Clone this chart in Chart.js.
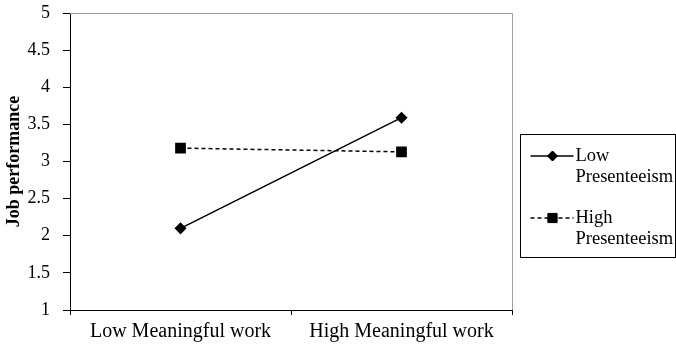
<!DOCTYPE html>
<html>
<head>
<meta charset="utf-8">
<script src="https://cdn.jsdelivr.net/npm/chart.js@4"></script>
<style>
    html, body { margin: 0; padding: 0; background: #fff; }
    #box { width: 676px; height: 346px; }
</style>
</head>
<body>
<div id="box"><canvas id="myChart"></canvas></div>
<script>
const categories = ['Low Meaningful work', 'High Meaningful work'];
const lowPresenteeism = [2.1, 3.59];
const highPresenteeism = [3.18, 3.13];
const legendLabels = [['Low', 'Presenteeism'], ['High', 'Presenteeism']];

const serif = "'Liberation Serif', 'Times New Roman', serif";

// grey frame on top/right of plot area + boxed legend at the right
const framePlugin = {
    id: 'frame',
    afterDraw(chart) {
        const c = chart.ctx;
        const a = chart.chartArea;
        c.save();
        c.strokeStyle = '#a0a0a0';
        c.lineWidth = 1;
        c.beginPath();
        c.moveTo(a.left, a.top + 0.5);
        c.lineTo(a.right + 0.5, a.top + 0.5);
        c.lineTo(a.right + 0.5, a.bottom);
        c.stroke();

        // legend
        const bx = 520.5, by = 134.5, bw = 155, bh = 123;
        c.strokeStyle = '#000';
        c.strokeRect(bx, by, bw, bh);
        c.font = '18.5px ' + serif;
        c.fillStyle = '#000';
        c.textBaseline = 'middle';
        chart.data.datasets.forEach(function (ds, i) {
            const y = by + 21.5 + i * 62;
            c.save();
            c.lineWidth = ds.borderWidth;
            c.setLineDash(ds.borderDash || []);
            c.beginPath();
            c.moveTo(bx + 10, y);
            c.lineTo(bx + 53, y);
            c.stroke();
            c.restore();
            Chart.helpers.drawPoint(c, {pointStyle: ds.pointStyle, radius: ds.pointRadius, borderWidth: 1}, bx + 32, y);
            c.fill();
            c.fillText(legendLabels[i][0], bx + 55, y);
            c.fillText(legendLabels[i][1], bx + 55, y + 21);
        });
        c.restore();
    }
};

const ctx = document.getElementById('myChart');

new Chart(ctx, {
    type: 'line',
    data: {
        labels: categories,
        datasets: [{
            label: 'Low Presenteeism',
            data: lowPresenteeism,
            borderColor: '#000',
            backgroundColor: '#000',
            borderWidth: 1.5,
            pointStyle: 'rectRot',
            pointRadius: 5,
            tension: 0
        }, {
            label: 'High Presenteeism',
            data: highPresenteeism,
            borderColor: '#000',
            backgroundColor: '#000',
            borderWidth: 1.5,
            borderDash: [4, 3],
            pointStyle: 'rect',
            pointRadius: 6.5,
            tension: 0
        }]
    },
    options: {
        responsive: true,
        maintainAspectRatio: false,
        animation: false,
        layout: {
            padding: {top: 13, right: 164, bottom: 0, left: 0}
        },
        plugins: {
            legend: {display: false},
            tooltip: {enabled: false}
        },
        scales: {
            x: {
                offset: true,
                afterFit: function (scale) { scale.height = 36; },
                grid: {
                    offset: true,
                    drawOnChartArea: false,
                    drawTicks: true,
                    tickLength: 5,
                    color: '#000'
                },
                border: {color: '#000', width: 1},
                ticks: {
                    color: '#000',
                    font: {family: serif, size: 20},
                    padding: 5,
                    maxRotation: 0
                }
            },
            y: {
                min: 1,
                max: 5,
                afterFit: function (scale) {
                    scale.width = 70;
                    scale.paddingTop = 0;
                    scale.paddingBottom = 0;
                },
                grid: {
                    drawOnChartArea: false,
                    drawTicks: true,
                    tickLength: 7,
                    color: '#000'
                },
                border: {color: '#000', width: 1},
                ticks: {
                    stepSize: 0.5,
                    color: '#000',
                    font: {family: serif, size: 18},
                    padding: 13,
                    callback: function (v) { return v; }
                },
                title: {
                    display: true,
                    text: 'Job performance',
                    color: '#000',
                    font: {family: serif, size: 18, weight: 'bold'},
                    padding: {top: 4, bottom: 0}
                }
            }
        }
    },
    plugins: [framePlugin]
});
</script>
</body>
</html>
